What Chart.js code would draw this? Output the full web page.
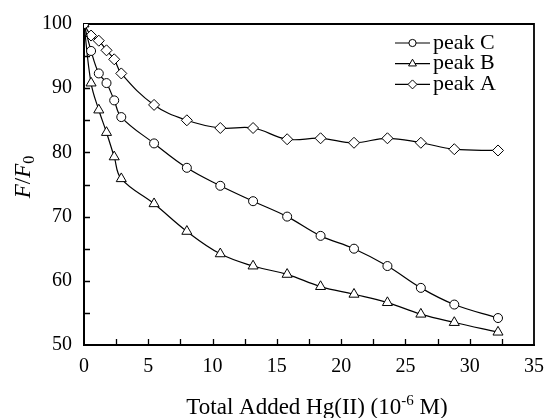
<!DOCTYPE html>
<html>
<head>
<meta charset="utf-8">
<script src="https://cdn.jsdelivr.net/npm/chart.js@4"></script>
<style>
html,body{margin:0;padding:0;background:#fff;}
</style>
</head>
<body>
<canvas id="quenchChart" width="554" height="418"></canvas>
<script>
// total added Hg(II), 10^-6 M
const addedHg = [0, 0.55, 1.15, 1.75, 2.35, 2.9, 5.45, 8.0, 10.6, 13.15, 15.8, 18.4, 21.0, 23.6, 26.2, 28.8, 32.2];
// F/F0 for each peak
const peakC = [100, 95.8, 92.3, 90.8, 88.1, 85.5, 81.4, 77.6, 74.8, 72.4, 70.0, 67.0, 65.0, 62.3, 58.9, 56.3, 54.2];
const peakB = [100, 90.8, 86.6, 83.1, 79.3, 75.9, 72.0, 67.7, 64.2, 62.3, 61.0, 59.1, 57.9, 56.6, 54.8, 53.5, 52.0];
const peakA = [100, 98.2, 97.4, 95.9, 94.5, 92.3, 87.4, 85.0, 83.8, 83.8, 82.05, 82.2, 81.5, 82.2, 81.5, 80.5, 80.3];

const xTickValues = [0, 5, 10, 15, 20, 25, 30, 35];
const yTickValues = [50, 60, 70, 80, 90, 100];

const seriesNames = ["peak C", "peak B", "peak A"];
const seriesStyles = ["circle", "triangle", "rectRot"];

const serif = "'Liberation Serif', 'Times New Roman', serif";

function pts(ys){
  return ys.map((y,i)=>({x:addedHg[i],y:y}));
}

function ds(label, ys, style, r){
  return {
    label: label,
    data: pts(ys),
    borderColor: "#000",
    borderWidth: 1.2,
    tension: 0.4,
    pointStyle: style,
    pointRadius: r,
    pointBorderWidth: 1,
    pointBorderColor: "#000",
    pointBackgroundColor: "#fff",
    fill: false
  };
}

// frame on top/right and inward tick marks
const framePlugin = {
  id: "frame",
  beforeDatasetsDraw(chart){
    const ctx = chart.ctx, a = chart.chartArea;
    const xs = chart.scales.x, ys = chart.scales.y;
    ctx.save();
    ctx.strokeStyle = "#000";
    ctx.lineWidth = 1.8;
    ctx.beginPath();
    ctx.moveTo(a.left, a.top); ctx.lineTo(a.right, a.top); ctx.lineTo(a.right, a.bottom);
    ctx.stroke();
    ctx.lineWidth = 1.3;
    ctx.beginPath();
    for(let v = 2.5; v < 35; v += 2.5){
      const px = Math.round(xs.getPixelForValue(v)) + 0.5;
      ctx.moveTo(px, a.bottom); ctx.lineTo(px, a.bottom - 6);
    }
    for(let v = 55; v < 100; v += 5){
      const py = Math.round(ys.getPixelForValue(v)) + 0.5;
      ctx.moveTo(a.left, py); ctx.lineTo(a.left + 6, py);
    }
    ctx.stroke();
    ctx.restore();
  }
};

// axis titles and legend
const textPlugin = {
  id: "texts",
  afterDraw(chart){
    const ctx = chart.ctx, a = chart.chartArea;
    ctx.save();
    ctx.fillStyle = "#000";

    // y title F/F0
    ctx.save();
    ctx.textBaseline = "middle";
    ctx.translate(24, 177);
    ctx.rotate(-Math.PI / 2);
    const it = "italic 23px " + serif, up = "23px " + serif, sub = "16px " + serif;
    const parts = [["F", it, 0], ["/", up, 0], ["F", it, 0], ["0", sub, 6]];
    let w = 0;
    parts.forEach(p => { ctx.font = p[1]; w += ctx.measureText(p[0]).width; });
    let x = -w / 2;
    ctx.textAlign = "left";
    parts.forEach(p => { ctx.font = p[1]; ctx.fillText(p[0], x, p[2]); x += ctx.measureText(p[0]).width; });
    ctx.restore();

    // x title
    ctx.textBaseline = "alphabetic";
    const xparts = [["Total Added Hg(II) (10", "23px " + serif, 0], ["-6", "15px " + serif, -9], [" M)", "23px " + serif, 0]];
    w = 0;
    xparts.forEach(p => { ctx.font = p[1]; w += ctx.measureText(p[0]).width; });
    x = 317 - w / 2;
    ctx.textAlign = "left";
    xparts.forEach(p => { ctx.font = p[1]; ctx.fillText(p[0], x, 414 + p[2]); x += ctx.measureText(p[0]).width; });

    // legend
    ctx.textBaseline = "middle";
    const lx = 395, ly = 43, gap = 20.7;
    seriesNames.forEach((name, i) => {
      const y = ly + i * gap;
      ctx.strokeStyle = "#000";
      ctx.lineWidth = 1.2;
      ctx.beginPath(); ctx.moveTo(lx, y); ctx.lineTo(lx + 35, y); ctx.stroke();
      ctx.fillStyle = "#fff";
      ctx.lineWidth = 1;
      Chart.helpers.drawPoint(ctx, {pointStyle: seriesStyles[i], radius: i == 0 ? 3.6 : 4.5, rotation: 0, borderWidth: 1}, lx + 17.5, y);
      ctx.fillStyle = "#000";
      ctx.font = "22px " + serif;
      ctx.fillText(name, lx + 38, y);
    });
    ctx.restore();
  }
};

new Chart(document.getElementById("quenchChart"), {
  type: "line",
  data: {
    datasets: [
      ds(seriesNames[0], peakC, seriesStyles[0], 4.5),
      ds(seriesNames[1], peakB, seriesStyles[1], 5.8),
      ds(seriesNames[2], peakA, seriesStyles[2], 5.5)
    ]
  },
  options: {
    responsive: false,
    animation: false,
    devicePixelRatio: 1,
    layout: {padding: {top: 20, right: 11, bottom: 0, left: 0}},
    plugins: {legend: {display: false}, tooltip: {enabled: false}},
    scales: {
      x: {
        type: "linear",
        min: 0, max: 35,
        afterBuildTicks: s => { s.ticks = xTickValues.map(v => ({value: v})); },
        afterFit: s => { s.height = 73; },
        ticks: {color: "#000", font: {family: serif, size: 20}, padding: 10, maxRotation: 0},
        grid: {drawOnChartArea: false, drawTicks: false},
        border: {display: true, color: "#000", width: 2}
      },
      y: {
        min: 50, max: 100,
        afterBuildTicks: s => { s.ticks = yTickValues.map(v => ({value: v})); },
        afterFit: s => { s.width = 84; },
        ticks: {color: "#000", font: {family: serif, size: 20}, padding: 12},
        grid: {drawOnChartArea: false, drawTicks: false},
        border: {display: true, color: "#000", width: 2}
      }
    }
  },
  plugins: [framePlugin, textPlugin]
});
</script>
</body>
</html>
